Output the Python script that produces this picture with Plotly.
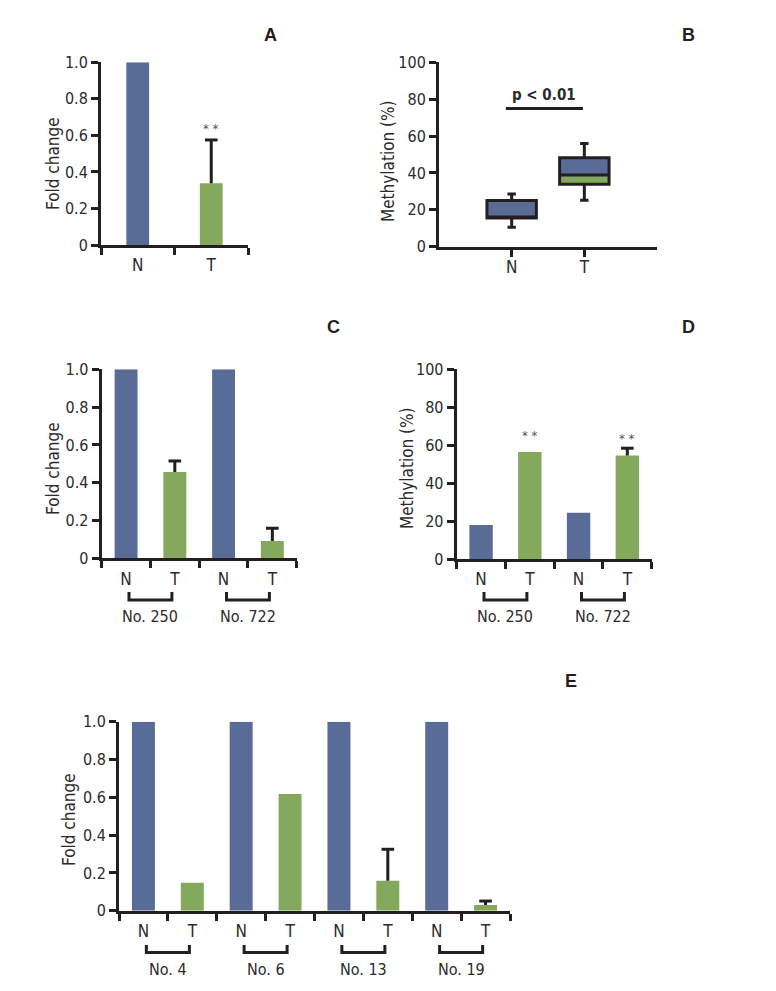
import plotly.graph_objects as go

# ---------------- data ----------------
# Panel A
a_cats = ["N", "T"]
a_vals = [1.0, 0.338]
a_err = [0.0, 0.237]
a_stars = [1]

# Panel B (box summary)
b_cats = ["N", "T"]
b_q1 = [15.5, 33.8]
b_median = [15.5, 38.9]
b_q3 = [25.0, 48.3]
b_low = [10.5, 25.2]
b_high = [28.6, 56.0]
b_sig_x = [0.92, 1.98]
b_sig_y = [75, 75]
b_sig_text = "p < 0.01"

# Panel C
c_cats = ["N", "T", "N", "T"]
c_vals = [1.0, 0.457, 1.0, 0.092]
c_err = [0.0, 0.058, 0.0, 0.067]
c_groups = ["No. 250", "No. 722"]

# Panel D
d_cats = ["N", "T", "N", "T"]
d_vals = [17.9, 56.4, 24.4, 54.5]
d_err = [0.0, 0.0, 0.0, 3.9]
d_groups = ["No. 250", "No. 722"]
d_stars = [1, 3]

# Panel E
e_cats = ["N", "T", "N", "T", "N", "T", "N", "T"]
e_vals = [1.0, 0.148, 1.0, 0.617, 1.0, 0.159, 1.0, 0.030]
e_err = [0.0, 0.0, 0.0, 0.0, 0.0, 0.166, 0.0, 0.021]
e_groups = ["No. 4", "No. 6", "No. 13", "No. 19"]

fold_ticks = [0, 0.2, 0.4, 0.6, 0.8, 1.0]
fold_labels = ["0", "0.2", "0.4", "0.6", "0.8", "1.0"]
meth_ticks = [0, 20, 40, 60, 80, 100]
meth_labels = ["0", "20", "40", "60", "80", "100"]

# ---------------- style ----------------
W, H = 776, 991
BLUE = "#596c97"
GREEN = "#84a95c"
INK = "#231f20"
TXT = "#2b2b2b"
NARROW = "Liberation Sans Narrow, DejaVu Sans Condensed, Arial Narrow, sans-serif"
BOLD = "Liberation Sans, Arial, sans-serif"
FS = 16      # y tick numbers, group labels
FS_X = 17    # N / T labels
FS_T = 17    # axis titles


def dx(p0, p1):
    return [p0 / W, p1 / W]


def dy(top, bottom):
    return [1 - bottom / H, 1 - top / H]


def py(p):
    return 1 - p / H


panels = {
    # name: (x0, x1, ytop, ybottom)
    "A": (101, 248, 62.3, 245),
    "B": (439, 657, 62.3, 246.7),
    "C": (101.7, 296.7, 369.3, 558.3),
    "D": (456.7, 651.7, 369.3, 559),
    "E": (119, 510, 721.7, 910.7),
}
axis_ids = {"A": "", "B": "2", "C": "3", "D": "4", "E": "5"}

fig = go.Figure()
layout_axes = {}
annotations = []
shapes = []


def add_axes(name, xrange, centers, cats, yticks, ylabels, yrange, boundary_ticks, major_ticks=False):
    sid = axis_ids[name]
    x0, x1, yt, yb = panels[name]
    xa = dict(
        domain=dx(x0, x1), range=xrange, anchor="y" + sid, automargin=False,
        showline=True, linecolor=INK, linewidth=3, showgrid=False, zeroline=False,
        tickmode="array", tickvals=centers, ticktext=cats,
        ticks="outside" if major_ticks else "", ticklen=7, tickwidth=3, tickcolor=INK,
        ticklabelstandoff=-4 if major_ticks else 3,
        tickfont=dict(family=NARROW, size=FS_X, color=TXT),
        fixedrange=True,
    )
    if boundary_ticks is not None:
        xa["minor"] = dict(tickmode="array", tickvals=boundary_ticks, ticks="outside",
                           ticklen=7, tickwidth=3, tickcolor=INK, showgrid=False)
    ya = dict(
        domain=dy(yt, yb), range=yrange, anchor="x" + sid, automargin=False,
        showline=True, linecolor=INK, linewidth=3, showgrid=False, zeroline=False,
        tickmode="array", tickvals=yticks, ticktext=ylabels,
        ticks="outside", ticklen=7, tickwidth=3, tickcolor=INK,
        tickfont=dict(family=NARROW, size=FS, color=TXT),
        fixedrange=True,
    )
    layout_axes["xaxis" + sid] = xa
    layout_axes["yaxis" + sid] = ya


def bar_panel(name, cats, vals, errs, width, yticks, ylabels, yrange):
    sid = axis_ids[name]
    n = len(cats)
    xs = list(range(n))
    colors = [BLUE if c == "N" else GREEN for c in cats]
    fig.add_trace(go.Bar(x=xs, y=vals, width=width, marker=dict(color=colors, line=dict(width=0)),
                         xaxis="x" + sid, yaxis="y" + sid, showlegend=False, hoverinfo="skip"))
    # error bars (upper only)
    ex, ey, cx, cy = [], [], [], []
    for i, (v, e) in enumerate(zip(vals, errs)):
        if e > 0:
            ex += [i, i, None]
            ey += [v, v + e, None]
            cx.append(i)
            cy.append(v + e)
    if ex:
        fig.add_trace(go.Scatter(x=ex, y=ey, mode="lines", line=dict(color=INK, width=3),
                                 xaxis="x" + sid, yaxis="y" + sid, showlegend=False, hoverinfo="skip"))
        fig.add_trace(go.Scatter(x=cx, y=cy, mode="markers",
                                 marker=dict(symbol="line-ew", size=9, line=dict(color=INK, width=3)),
                                 xaxis="x" + sid, yaxis="y" + sid, showlegend=False, hoverinfo="skip",
                                 cliponaxis=False))
    add_axes(name, [-0.5, n - 0.5], xs, cats, yticks, ylabels, yrange,
             [b - 0.5 for b in range(n + 1)])


def stars(name, idx, vals, errs, shift):
    sid = axis_ids[name]
    for i in idx:
        annotations.append(dict(x=i, y=vals[i] + errs[i], xref="x" + sid, yref="y" + sid,
                                text="* *", showarrow=False, yanchor="bottom", yshift=shift,
                                font=dict(family=NARROW, size=13, color="#555555")))


def brackets(name, groups, y_bar, y_tip, y_text):
    sid = axis_ids[name]
    for g, label in enumerate(groups):
        xa0 = 2 * g + 0.06
        xa1 = 2 * g + 1 - 0.06
        shapes.append(dict(type="path", xref="x" + sid, yref="paper",
                           path=f"M {xa0},{py(y_tip)} L {xa0},{py(y_bar)} L {xa1},{py(y_bar)} L {xa1},{py(y_tip)}",
                           line=dict(color=INK, width=3)))
        annotations.append(dict(x=2 * g + 0.5, y=py(y_text), xref="x" + sid, yref="paper",
                                text=label, showarrow=False, yanchor="middle",
                                font=dict(family=NARROW, size=FS, color=TXT)))


# Panel A
bar_panel("A", a_cats, a_vals, a_err, 0.31, fold_ticks, fold_labels, [0, 1.0])
stars("A", a_stars, a_vals, a_err, 2)

# Panel B
fig.add_trace(go.Bar(x=[1, 2], y=[q3 - q1 for q1, q3 in zip(b_q1, b_q3)], base=b_q1, width=0.68,
                     marker=dict(color=BLUE, line=dict(width=0)), xaxis="x2", yaxis="y2",
                     showlegend=False, hoverinfo="skip"))
fig.add_trace(go.Bar(x=[1, 2], y=[m - q1 for q1, m in zip(b_q1, b_median)], base=b_q1, width=0.68,
                     marker=dict(color=GREEN, line=dict(width=0)), xaxis="x2", yaxis="y2",
                     showlegend=False, hoverinfo="skip"))
fig.add_trace(go.Box(x=[1, 2], q1=b_q1, median=b_median, q3=b_q3, lowerfence=b_low, upperfence=b_high,
                     width=0.68, whiskerwidth=0.17, fillcolor="rgba(0,0,0,0)",
                     line=dict(color=INK, width=3), xaxis="x2", yaxis="y2",
                     showlegend=False, hoverinfo="skip", boxpoints=False))
fig.add_trace(go.Scatter(x=b_sig_x, y=b_sig_y, mode="lines", line=dict(color=INK, width=3),
                         xaxis="x2", yaxis="y2", showlegend=False, hoverinfo="skip"))
annotations.append(dict(x=sum(b_sig_x) / 2, y=b_sig_y[0], xref="x2", yref="y2", text=b_sig_text,
                        showarrow=False, yanchor="bottom", yshift=2,
                        font=dict(family=NARROW, size=15, color=TXT, weight="bold")))
add_axes("B", [0, 3], [1, 2], b_cats, meth_ticks, meth_labels, [0, 100], None, major_ticks=True)

# Panel C
bar_panel("C", c_cats, c_vals, c_err, 0.47, fold_ticks, fold_labels, [0, 1.0])
brackets("C", c_groups, 600, 592, 616)

# Panel D
bar_panel("D", d_cats, d_vals, d_err, 0.48, meth_ticks, meth_labels, [0, 100])
stars("D", d_stars, d_vals, [0, 3.9, 0, 3.9], 0)
brackets("D", d_groups, 600, 592, 616)

# Panel E
bar_panel("E", e_cats, e_vals, e_err, 0.47, fold_ticks, fold_labels, [0, 1.0])
brackets("E", e_groups, 952.5, 945, 969)

# y-axis titles
ytitles = [("Fold change", 53, 163), ("Methylation (%)", 388, 161),
           ("Fold change", 53, 468), ("Methylation (%)", 407, 468),
           ("Fold change", 69, 820)]
for t, x, y in ytitles:
    annotations.append(dict(x=x / W, y=py(y), xref="paper", yref="paper", text=t, textangle=-90,
                            showarrow=False, xanchor="center", yanchor="middle",
                            font=dict(family=NARROW, size=FS_T, color=TXT)))

# panel letters
letters = [("A", 270, 35), ("B", 688, 35), ("C", 333, 327), ("D", 688, 327), ("E", 571, 681)]
for t, x, y in letters:
    annotations.append(dict(x=x / W, y=py(y), xref="paper", yref="paper", text="<b>" + t + "</b>",
                            showarrow=False, xanchor="center", yanchor="middle",
                            font=dict(family=BOLD, size=18, color=INK)))

fig.update_layout(
    template="none",
    width=W, height=H, margin=dict(l=0, r=0, t=0, b=0, pad=0, autoexpand=False),
    paper_bgcolor="white", plot_bgcolor="white",
    barmode="overlay", showlegend=False,
    annotations=annotations, shapes=shapes,
    **layout_axes,
)

post = (
    "document.documentElement.style.margin='0';document.documentElement.style.padding='0';"
    "document.documentElement.style.overflow='hidden';"
    "document.body.style.margin='0';document.body.style.padding='0';document.body.style.overflow='hidden';"
)
fig.write_html("out.html", config={"displayModeBar": False}, post_script=post)
